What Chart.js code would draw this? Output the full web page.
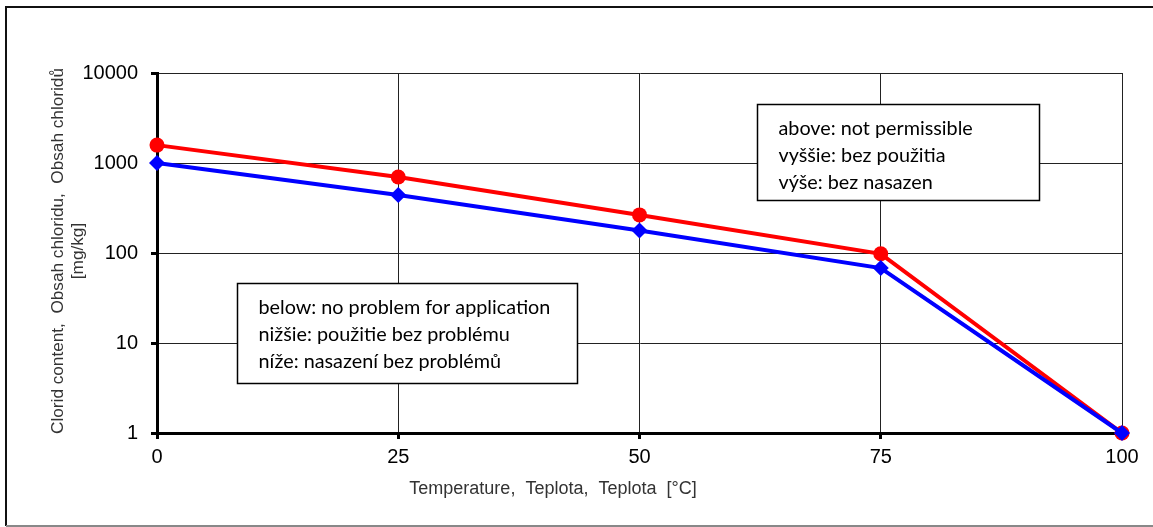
<!DOCTYPE html>
<html>
<head>
<meta charset="utf-8">
<script src="https://cdn.jsdelivr.net/npm/chart.js@4"></script>
<style>
  html, body { margin: 0; padding: 0; background: #fff; }
  #wrap { width: 1153px; height: 527px; position: relative; }
</style>
</head>
<body>
<div id="wrap"><canvas id="c" width="1153" height="527"></canvas></div>
<script>
// ---- data ----
const temperatures = [0, 25, 50, 75, 100];
const redValues = [1580, 700, 265, 98, 1];
const blueValues = [1000, 440, 178, 68, 1];
const yTicks = [1, 10, 100, 1000, 10000];
const xTicks = [0, 25, 50, 75, 100];
const xTitle = 'Temperature,  Teplota,  Teplota  [°C]';
const yTitleLines = ['Clorid content,  Obsah chloridu,  Obsah chloridů', '[mg/kg]'];
const aboveLines = ['above: not permissible', 'vyššie: bez použitia', 'výše: bez nasazen'];
const belowLines = ['below: no problem for application', 'nižšie: použitie bez problému', 'níže: nasazení bez problémů'];

const AX_FONT = '"Liberation Sans", Arial, sans-serif';
const BOX_FONT = 'Lato, "Open Sans", sans-serif';

function drawBox(ctx, chart, x0, x1, y0, y1, lines) {
  const xs = chart.scales.x, ys = chart.scales.y;
  const L = Math.round(xs.getPixelForValue(x0)) + 0.5;
  const R = Math.round(xs.getPixelForValue(x1)) + 0.5;
  const T = Math.round(ys.getPixelForValue(y0)) + 0.5;
  const B = Math.round(ys.getPixelForValue(y1)) + 0.5;
  ctx.save();
  ctx.fillStyle = '#fff';
  ctx.fillRect(L, T, R - L, B - T);
  ctx.strokeStyle = '#000';
  ctx.lineWidth = 1.5;
  ctx.strokeRect(L, T, R - L, B - T);
  ctx.fillStyle = '#000';
  ctx.font = '19.8px ' + BOX_FONT;
  ctx.textBaseline = 'middle';
  ctx.textAlign = 'left';
  lines.forEach((t, i) => ctx.fillText(t, L + 21, T + 24 + i * 27));
  ctx.restore();
}

const decorPlugin = {
  id: 'decor',
  beforeDraw(chart) {
    const ctx = chart.ctx;
    ctx.save();
    ctx.fillStyle = '#fff';
    ctx.fillRect(0, 0, chart.width, chart.height);
    // outer frame
    ctx.strokeStyle = '#111';
    ctx.lineWidth = 2;
    ctx.beginPath();
    ctx.moveTo(chart.width + 2, 7);
    ctx.lineTo(6, 7);
    ctx.lineTo(6, chart.height - 1);
    ctx.stroke();
    ctx.strokeStyle = '#888';
    ctx.beginPath();
    ctx.moveTo(6, chart.height - 1);
    ctx.lineTo(chart.width + 2, chart.height - 1);
    ctx.stroke();
    ctx.restore();
  },
  beforeDatasetsDraw(chart) {
    const ctx = chart.ctx;
    drawBox(ctx, chart, 62.2, 91.4, 4500, 390, aboveLines);
    drawBox(ctx, chart, 8.3, 43.5, 46.4, 3.6, belowLines);
  },
  afterDraw(chart) {
    const ctx = chart.ctx;
    const a = chart.chartArea;
    ctx.save();
    ctx.fillStyle = '#333';
    // x title
    ctx.font = '18px ' + AX_FONT;
    ctx.textAlign = 'center';
    ctx.textBaseline = 'middle';
    ctx.fillText(xTitle, a.left + 396, a.bottom + 56);
    // y title (rotated)
    ctx.font = '17.2px ' + AX_FONT;
    const cy = (a.top + a.bottom) / 2 - 2;
    const xs = [a.left - 99, a.left - 79];
    yTitleLines.forEach((t, i) => {
      ctx.save();
      ctx.translate(xs[i], cy);
      ctx.rotate(-Math.PI / 2);
      ctx.fillText(t, 0, 0);
      ctx.restore();
    });
    ctx.restore();
  }
};

new Chart(document.getElementById('c'), {
  type: 'line',
  data: {
    datasets: [
      {
        label: 'blue',
        data: temperatures.map((t, i) => ({ x: t, y: blueValues[i] })),
        borderColor: '#0000ff',
        backgroundColor: '#0000ff',
        borderWidth: 4,
        pointStyle: 'rectRot',
        pointRadius: 8,
        pointBorderWidth: 0,
        tension: 0,
        clip: false,
        order: 0
      },
      {
        label: 'red',
        data: temperatures.map((t, i) => ({ x: t, y: redValues[i] })),
        borderColor: '#ff0000',
        backgroundColor: '#ff0000',
        borderWidth: 4,
        pointStyle: 'circle',
        pointRadius: 7.5,
        pointBorderWidth: 0,
        tension: 0,
        clip: false,
        order: 1
      }
    ]
  },
  options: {
    responsive: false,
    animation: false,
    devicePixelRatio: 1,
    layout: { padding: { left: 0, top: 73, right: 31, bottom: 0 } },
    plugins: { legend: { display: false }, tooltip: { enabled: false } },
    scales: {
      x: {
        type: 'linear',
        min: 0, max: 100,
        afterFit: s => { s.height = 94; },
        afterBuildTicks: s => { s.ticks = xTicks.map(v => ({ value: v })); },
        ticks: {
          color: '#000',
          font: { family: AX_FONT, size: 20 },
          padding: 6,
          maxRotation: 0,
          callback: v => String(v)
        },
        grid: { color: '#222', lineWidth: 1, tickLength: 6, tickWidth: 3, tickColor: '#000' },
        border: { color: '#000', width: 3 }
      },
      y: {
        type: 'logarithmic',
        min: 1, max: 10000,
        afterFit: s => { s.width = 157; },
        afterBuildTicks: s => { s.ticks = yTicks.map(v => ({ value: v, major: true })); },
        ticks: {
          color: '#000',
          font: { family: AX_FONT, size: 20 },
          padding: 13,
          callback: v => String(v)
        },
        grid: { color: '#222', lineWidth: 1, tickLength: 6, tickWidth: 3, tickColor: '#000' },
        border: { color: '#000', width: 3 }
      }
    }
  },
  plugins: [decorPlugin]
});
</script>
</body>
</html>
